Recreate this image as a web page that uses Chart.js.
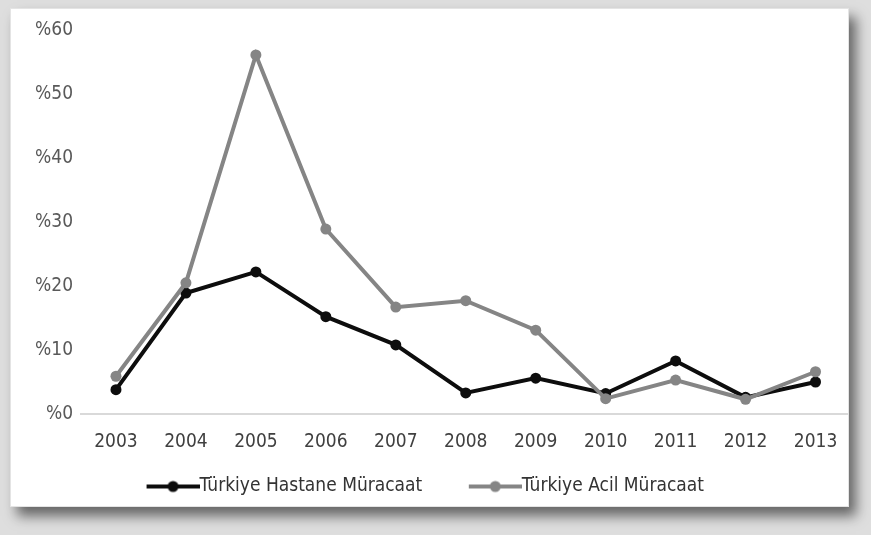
<!DOCTYPE html>
<html>
<head>
<meta charset="utf-8">
<script src="https://cdn.jsdelivr.net/npm/chart.js@4.4.1/dist/chart.umd.min.js"></script>
<style>
    html, body { margin: 0; padding: 0; }
    body {
        width: 871px;
        height: 535px;
        background: #dedede;
        position: relative;
        overflow: hidden;
    }
    #panel {
        position: absolute;
        left: 10px;
        top: 8px;
        width: 837px;
        height: 497px;
        background: #ffffff;
        overflow: hidden;
        box-shadow: 7px 9px 12px rgba(0, 0, 0, 0.55);
        border: 1px solid #e4e4e4;
    }
    /* canvas starts left of the panel so the legend row sits where it should */
    #wrap {
        position: absolute;
        left: -51px;
        top: 0;
        width: 896px;
        height: 497px;
    }
</style>
</head>
<body>
<div id="panel">
    <div id="wrap"><canvas id="lineChart"></canvas></div>
</div>
<script>
// Years on the x axis
const years = ['2003', '2004', '2005', '2006', '2007', '2008', '2009', '2010', '2011', '2012', '2013'];

// Values in percent
const hastaneValues = [3.8, 18.9, 22.2, 15.2, 10.8, 3.3, 5.6, 3.2, 8.3, 2.6, 5.0];
const acilValues = [5.9, 20.5, 56.1, 28.9, 16.7, 17.7, 13.1, 2.4, 5.3, 2.3, 6.6];

const seriesNames = ['Türkiye Hastane Müracaat', 'Türkiye Acil Müracaat'];
const yTicks = [0, 10, 20, 30, 40, 50, 60];

const FONT = '"DejaVu Sans Condensed", "Liberation Sans Narrow", "Liberation Sans", sans-serif';
const FONT_SIZE = 19;
const MARKER_LEN = 53;   // visible line+dot sample
const MARKER_LEAD = 46;  // empty space before each sample (gap between items)

// Line+dot sample for the legend (Excel style), runs right up to the text
function legendMarker(color) {
    const c = document.createElement('canvas');
    c.width = MARKER_LEAD + MARKER_LEN;
    c.height = 14;
    const g = c.getContext('2d');
    g.strokeStyle = color;
    g.lineWidth = 4;
    g.beginPath();
    g.moveTo(MARKER_LEAD, 7);
    g.lineTo(c.width, 7);
    g.stroke();
    g.fillStyle = color;
    g.beginPath();
    g.arc(MARKER_LEAD + MARKER_LEN / 2, 7, 5.5, 0, Math.PI * 2);
    g.fill();
    return c;
}

function createChart() {
    const ctx = document.getElementById('lineChart').getContext('2d');

    new Chart(ctx, {
        type: 'line',
        data: {
            labels: years,
            datasets: [
                {
                    label: seriesNames[0],
                    data: hastaneValues,
                    borderColor: '#0d0d0d',
                    backgroundColor: '#0d0d0d',
                    borderWidth: 4,
                    pointRadius: 5.5,
                    pointBorderWidth: 0,
                    tension: 0,
                    order: 1
                },
                {
                    label: seriesNames[1],
                    data: acilValues,
                    borderColor: '#858585',
                    backgroundColor: '#858585',
                    borderWidth: 4,
                    pointRadius: 5.5,
                    pointBorderWidth: 0,
                    tension: 0,
                    order: 0
                }
            ]
        },
        options: {
            responsive: true,
            maintainAspectRatio: false,
            animation: false,
            layout: {
                padding: { top: 21, right: 2, bottom: 0, left: 0 }
            },
            scales: {
                x: {
                    offset: true,
                    grid: { display: false, drawTicks: false },
                    border: { display: true, color: '#d9d9d9', width: 2 },
                    ticks: {
                        color: '#404040',
                        padding: 17,
                        font: { family: FONT, size: FONT_SIZE }
                    },
                    afterFit: function(scale) { scale.height = 53; }
                },
                y: {
                    min: 0,
                    max: 60,
                    afterBuildTicks: function(scale) {
                        scale.ticks = yTicks.map(v => ({ value: v }));
                    },
                    grid: { display: false, drawTicks: false },
                    border: { display: false },
                    ticks: {
                        color: '#595959',
                        padding: 8,
                        font: { family: FONT, size: FONT_SIZE },
                        callback: function(value) { return '%' + value; }
                    },
                    afterFit: function(scale) { scale.width = 121; }
                }
            },
            plugins: {
                legend: {
                    position: 'bottom',
                    labels: {
                        usePointStyle: true,
                        pointStyleWidth: MARKER_LEAD + MARKER_LEN - FONT_SIZE,
                        boxHeight: 14,
                        padding: 10,
                        color: '#333333',
                        font: { family: FONT, size: FONT_SIZE },
                        generateLabels: function(chart) {
                            return chart.data.datasets.map((ds, i) => ({
                                text: ds.label,
                                datasetIndex: i,
                                pointStyle: legendMarker(ds.borderColor),
                                fillStyle: ds.borderColor,
                                strokeStyle: ds.borderColor,
                                lineWidth: 0,
                                hidden: false,
                                fontColor: '#333333'
                            }));
                        }
                    }
                },
                tooltip: { enabled: false }
            }
        }
    });
}

document.addEventListener('DOMContentLoaded', createChart);
</script>
</body>
</html>
